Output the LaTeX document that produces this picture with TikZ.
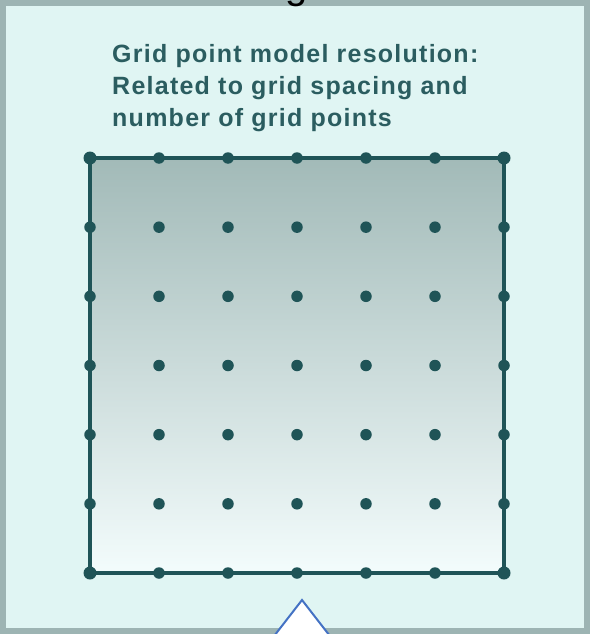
\documentclass[tikz,border=0pt]{standalone}
\usepackage{fontspec}
\setmainfont{Liberation Sans}
\begin{document}
\begin{tikzpicture}[x=1pt,y=-1pt,
  panel/.style={fill=panelfill,draw=panelborder,line width=6pt},
  gridline/.style={draw=griddark,line width=3.5pt},
  gdot/.style={circle,fill=griddark,inner sep=0pt,minimum size=11.5pt},
  cdot/.style={circle,fill=griddark,inner sep=0pt,minimum size=13pt},
  caption/.style={anchor=base west,align=left,text=textcol,font=\addfontfeatures{LetterSpace=5}\bfseries\fontsize{25}{31.5}\selectfont,inner sep=0pt},
  marker/.style={draw=markerblue,fill=white,line width=2pt}]
\definecolor{panelfill}{HTML}{E0F5F3}
\definecolor{panelborder}{HTML}{9DB4B3}
\definecolor{griddark}{HTML}{1F5457}
\definecolor{textcol}{HTML}{2B5D60}
\definecolor{gradtop}{HTML}{A2BAB8}
\definecolor{gradbot}{HTML}{F3FCFC}
\definecolor{markerblue}{HTML}{4472C4}
\useasboundingbox (0,0) rectangle (590,634);
\draw[panel] (3,3) rectangle (587,631);
\node[font=\fontsize{40}{40}\selectfont,anchor=base,inner sep=0pt] (cut) at (297,-1.5) {g};
\shade[top color=gradtop,bottom color=gradbot] (90,158) rectangle (504,573);
\draw[gridline] (90,158) rectangle (504,573);
\foreach \i in {0,...,6}{
  \foreach \j in {0,...,6}{
    \pgfmathsetmacro{\px}{90+69*\i}
    \pgfmathsetmacro{\py}{158+69.1667*\j}
    \node[gdot] (d\i\j) at (\px,\py) {};
  }
}
\foreach \i/\j in {0/0,6/0,0/6,6/6}{
  \node[cdot] at (d\i\j) {};
}
\node[caption] (t1) at (112,63) {Grid point model resolution:};
\node[caption] (t2) at (112,94.5) {Related to grid spacing and};
\node[caption] (t3) at (112,126) {number of grid points};
\draw[marker] (271,640) -- (302,600) -- (333,640);
\end{tikzpicture}
\end{document}
